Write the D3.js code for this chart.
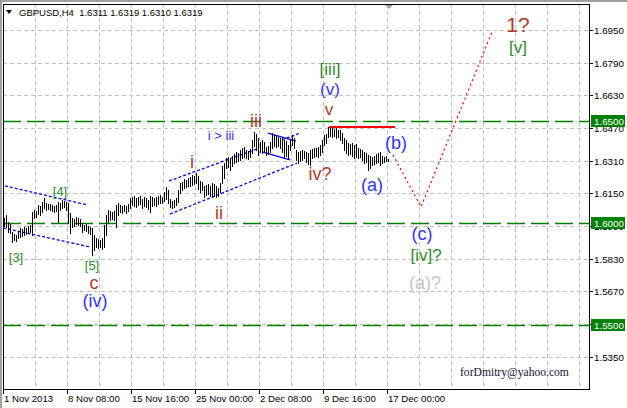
<!DOCTYPE html>
<html><head><meta charset="utf-8">
<script src="https://cdn.jsdelivr.net/npm/d3@7"></script>
<style>html,body{margin:0;padding:0;background:#fff;} svg{display:block}</style>
</head><body><svg id="c" width="627" height="408"></svg>
<script>
// ---- data ----
const highs = [1.6029,1.6044,1.6009,1.5999,1.5960,1.5950,1.5946,1.5965,1.5980,1.5975,
1.5985,1.5980,1.5990,1.5995,1.6058,1.6068,1.6063,1.6093,1.6088,1.6107,
1.6127,1.6102,1.6097,1.6097,1.6093,1.6088,1.6093,1.6107,1.6102,1.6117,
1.6112,1.6107,1.6102,1.6053,1.6029,1.6024,1.6034,1.6029,1.6024,1.6004,
1.5995,1.5999,1.5990,1.5985,1.5980,1.5946,1.5931,1.5926,1.5921,1.5931,
1.5995,1.6044,1.6068,1.6063,1.6058,1.6063,1.6093,1.6102,1.6093,1.6088,
1.6093,1.6088,1.6097,1.6127,1.6132,1.6137,1.6127,1.6132,1.6137,1.6122,
1.6132,1.6127,1.6117,1.6137,1.6132,1.6127,1.6132,1.6137,1.6142,1.6132,
1.6156,1.6181,1.6166,1.6122,1.6112,1.6117,1.6127,1.6166,1.6200,1.6205,
1.6220,1.6215,1.6225,1.6230,1.6240,1.6235,1.6249,1.6235,1.6210,1.6205,
1.6186,1.6191,1.6195,1.6186,1.6200,1.6195,1.6186,1.6176,1.6200,1.6284,
1.6298,1.6323,1.6328,1.6318,1.6333,1.6342,1.6352,1.6347,1.6362,1.6372,
1.6377,1.6362,1.6357,1.6367,1.6411,1.6450,1.6440,1.6421,1.6401,1.6411,
1.6401,1.6377,1.6382,1.6401,1.6445,1.6436,1.6431,1.6426,1.6421,1.6426,
1.6411,1.6406,1.6387,1.6411,1.6436,1.6421,1.6362,1.6352,1.6357,1.6362,
1.6357,1.6352,1.6347,1.6362,1.6367,1.6372,1.6372,1.6377,1.6387,1.6411,
1.6436,1.6440,1.6475,1.6470,1.6470,1.6465,1.6470,1.6460,1.6460,1.6445,
1.6421,1.6411,1.6396,1.6391,1.6396,1.6387,1.6391,1.6372,1.6367,1.6362,
1.6352,1.6347,1.6338,1.6333,1.6328,1.6333,1.6342,1.6347,1.6352,1.6333,
1.6328,1.6333,1.6319];
const lows = [1.5990,1.5985,1.5960,1.5955,1.5911,1.5921,1.5916,1.5931,1.5936,1.5941,
1.5946,1.5950,1.5955,1.5960,1.5946,1.6029,1.6034,1.6048,1.6044,1.6058,
1.6078,1.6068,1.6073,1.6068,1.6063,1.6058,1.6063,1.6004,1.6068,1.6078,
1.6083,1.6068,1.6004,1.5955,1.5985,1.5990,1.5999,1.5995,1.5990,1.5960,
1.5970,1.5965,1.5955,1.5950,1.5848,1.5872,1.5887,1.5882,1.5887,1.5877,
1.5887,1.5946,1.6009,1.6019,1.6024,1.6019,1.5985,1.6044,1.6058,1.6053,
1.6063,1.6053,1.6063,1.6078,1.6093,1.6088,1.6083,1.6093,1.6097,1.6078,
1.6088,1.6083,1.6073,1.6058,1.6088,1.6093,1.6088,1.6097,1.6102,1.6102,
1.6112,1.6122,1.6102,1.6083,1.6078,1.6083,1.6093,1.6107,1.6151,1.6166,
1.6176,1.6181,1.6186,1.6186,1.6191,1.6195,1.6200,1.6171,1.6156,1.6166,
1.6132,1.6142,1.6146,1.6137,1.6132,1.6137,1.6132,1.6137,1.6156,1.6200,
1.6225,1.6274,1.6279,1.6264,1.6284,1.6298,1.6303,1.6308,1.6313,1.6323,
1.6328,1.6323,1.6318,1.6328,1.6347,1.6382,1.6362,1.6338,1.6352,1.6347,
1.6357,1.6338,1.6342,1.6352,1.6372,1.6382,1.6377,1.6382,1.6372,1.6352,
1.6328,1.6333,1.6323,1.6362,1.6387,1.6372,1.6313,1.6298,1.6308,1.6313,
1.6323,1.6303,1.6293,1.6289,1.6323,1.6328,1.6333,1.6328,1.6338,1.6352,
1.6387,1.6396,1.6426,1.6431,1.6426,1.6431,1.6421,1.6426,1.6411,1.6396,
1.6362,1.6347,1.6338,1.6342,1.6333,1.6323,1.6328,1.6323,1.6328,1.6313,
1.6298,1.6303,1.6264,1.6274,1.6289,1.6293,1.6298,1.6303,1.6289,1.6298,
1.6303,1.6308,1.6310];
const priceTicks = [1.6950,1.6790,1.6630,1.6470,1.6310,1.6150,1.5990,1.5830,1.5670,1.5510,1.5350];
const timeLabels = ["1 Nov 2013","8 Nov 08:00","15 Nov 16:00","25 Nov 00:00","2 Dec 08:00","9 Dec 16:00","17 Dec 00:00"];
const timeLabelIndex = [0,32,64,96,128,160,192];
const levels = [1.6500,1.6000,1.5500];
const header = "GBPUSD,H4  1.6311 1.6319 1.6310 1.6319";
const resistance = {from:163, to:196, price:1.6475};
const projIdx = [195,209,244.5];
const projPrice = [1.6338,1.6083,1.6940];
// channel / pattern lines: [i1,p1,i2,p2]
const dottedLines = [[1,1.6186,42,1.6093],[0,1.5980,43.5,1.5887],
  [83,1.6210,127,1.6367],[83.5,1.6048,147,1.6298],[139.5,1.6411,148.5,1.6445]];
const solidLines = [[132.5,1.6445,146.5,1.6406],[130,1.6352,143.5,1.6313]];
const labelText  = ["[3]","[4]","[5]","c","(iv)","i","ii","iii","i > iii","iv?","v","(v)","[iii]","(a)","(b)","(c)","[iv]?","(a)?","1?","[v]"];
const labelIdx   = [6.5,28.5,44.5,45.5,46,94.5,108,126.5,109,158.5,163,163.5,163.5,184.5,196.5,209.5,211.5,211,257.5,257.5];
const labelPrice = [1.5833,1.6161,1.5796,1.5712,1.5620,1.6303,1.6053,1.6504,1.6431,1.6244,1.6558,1.6656,1.6756,1.6191,1.6396,1.5950,1.5843,1.5710,1.6979,1.6866];
const labelKind  = ["g","g","g","r","b","r","r","r","b","r","r","b","g","b","b","b","g","a","r","g"];
const labelSize  = [13,13,13,18,18,18,18,18,13,18,17,17,17,18,18,18,17,18,21,17];

// ---- drawing ----
const W=627,H=408, L=3, R=589, T=4, B=389;
const svg=d3.select("#c");
const x=d3.scaleLinear().domain([0,192]).range([3,387]);
const y=d3.scaleLinear().domain([1.5350,1.6950]).range([356.5,30]);
const px=v=>Math.round(v)+0.5;
const font="'Liberation Sans', Arial, sans-serif";
const colors={g:"#2f8a2a",r:"#b33a2c",b:"#3333ff",a:"#c4c4c4"};
const green="#008000";

svg.append("rect").attr("width",W).attr("height",H).attr("fill","#fff");

// grid
const grid=svg.append("g").attr("stroke","#c0c0c0").attr("stroke-dasharray","4,3").attr("shape-rendering","crispEdges");
d3.range(16,289,16).forEach(i=>{
  grid.append("line").attr("x1",px(x(i))).attr("x2",px(x(i))).attr("y1",T).attr("y2",B);
});
priceTicks.forEach(p=>{
  grid.append("line").attr("x1",L).attr("x2",R).attr("y1",px(y(p))).attr("y2",px(y(p)));
});

// level lines
levels.forEach(p=>{
  svg.append("line").attr("x1",L).attr("x2",R).attr("y1",Math.floor(y(p))+0.5).attr("y2",Math.floor(y(p))+0.5)
    .attr("stroke",green).attr("stroke-width",1.4).attr("stroke-dasharray","18,6");
});

// channels
dottedLines.forEach(d=>{
  svg.append("line").attr("x1",x(d[0])).attr("y1",y(d[1])).attr("x2",x(d[2])).attr("y2",y(d[3]))
    .attr("stroke","#0000ff").attr("stroke-width",1.3).attr("stroke-dasharray","3,2");
});
solidLines.forEach(d=>{
  svg.append("line").attr("x1",x(d[0])).attr("y1",y(d[1])).attr("x2",x(d[2])).attr("y2",y(d[3]))
    .attr("stroke","#0000ff").attr("stroke-width",1.3);
});

// bars
svg.append("g").selectAll("line").data(highs).join("line")
  .attr("x1",(d,i)=>Math.round(x(i))+1.5).attr("x2",(d,i)=>Math.round(x(i))+1.5)
  .attr("y1",d=>Math.round(y(d))).attr("y2",(d,i)=>Math.round(y(lows[i]))+1)
  .attr("stroke","#000").attr("shape-rendering","crispEdges");

// resistance
svg.append("line").attr("x1",x(resistance.from)).attr("x2",x(resistance.to))
  .attr("y1",Math.round(y(resistance.price))).attr("y2",Math.round(y(resistance.price)))
  .attr("stroke","#ff0000").attr("stroke-width",2);

// projection
svg.append("path").attr("d",d3.line()(projIdx.map((v,i)=>[x(v),y(projPrice[i])])))
  .attr("fill","none").attr("stroke","#ff0000").attr("stroke-width",1.2).attr("stroke-dasharray","2,3");

// labels
labelText.forEach((t,k)=>{
  svg.append("text").attr("x",x(labelIdx[k])).attr("y",y(labelPrice[k]))
    .attr("text-anchor","middle").attr("dominant-baseline","central")
    .attr("font-family",font).attr("font-size",labelSize[k]).attr("fill",colors[labelKind[k]]).text(t);
});

// email
svg.append("text").attr("x",460).attr("y",376).attr("font-family","'Liberation Serif','Times New Roman',serif")
  .attr("font-size",11.6).attr("fill","#101030").text("forDmitry@yahoo.com");

// header
svg.append("path").attr("d","M6,10 L12,10 L9,14 Z").attr("fill","#000");
svg.append("text").attr("x",19).attr("y",16).attr("font-family",font).attr("font-size",9.5)
  .attr("fill","#000").attr("xml:space","preserve").style("white-space","pre").text(header);

// shift marker
svg.append("path").attr("d","M385,5 L393,5 L389,9 Z").attr("fill","#a0a0a0");

// right axis
const ax=svg.append("g").attr("shape-rendering","crispEdges");
priceTicks.forEach(p=>{
  ax.append("line").attr("x1",R).attr("x2",R+4).attr("y1",px(y(p))).attr("y2",px(y(p))).attr("stroke","#000");
  svg.append("text").attr("x",R+5).attr("y",Math.round(y(p))+4).attr("font-family",font).attr("font-size",9.8)
    .attr("fill","#000").text(p.toFixed(4));
});
levels.forEach(p=>{
  const yy=Math.floor(y(p));
  svg.append("rect").attr("x",591).attr("y",yy-6).attr("width",34).attr("height",12).attr("fill",green);
  svg.append("text").attr("x",R+5).attr("y",yy+4).attr("font-family",font).attr("font-size",9.8)
    .attr("fill","#fff").text(p.toFixed(4));
});
// bottom axis
timeLabels.forEach((t,k)=>{
  const xx=Math.round(x(timeLabelIndex[k]))+0.5;
  ax.append("line").attr("x1",xx).attr("x2",xx).attr("y1",B).attr("y2",B+5).attr("stroke","#000");
  svg.append("text").attr("x",xx+0.5).attr("y",402).attr("font-family",font).attr("font-size",9.6)
    .attr("fill","#000").text(t);
});
// frame
ax.append("rect").attr("x",L+0.5).attr("y",T+0.5).attr("width",R-L).attr("height",B-T)
  .attr("fill","none").attr("stroke","#000");
svg.append("rect").attr("x",0).attr("y",0).attr("width",W).attr("height",2).attr("fill","#a0a0a0");
svg.append("rect").attr("x",0).attr("y",0).attr("width",2).attr("height",H).attr("fill","#a0a0a0");
</script></body></html>
